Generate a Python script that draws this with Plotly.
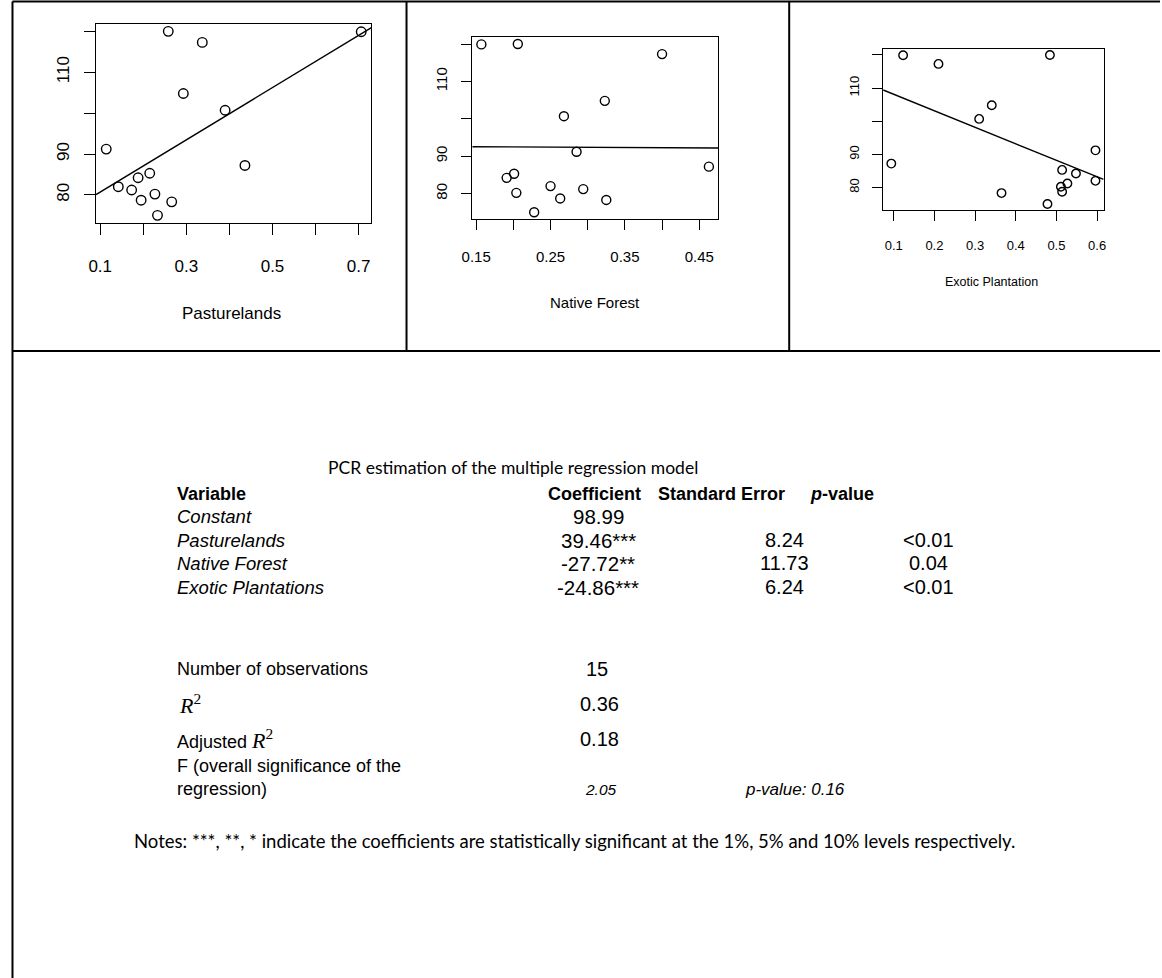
import plotly.graph_objects as go

W, H = 1162, 978

# ---------------- data ----------------
y_values = [120.0, 119.9, 117.3, 104.8, 100.7, 91.2, 87.2, 85.3, 84.2, 82.0, 81.2, 80.2, 78.7, 78.3, 75.0]
pasture_x = [0.258, 0.706, 0.337, 0.293, 0.390, 0.114, 0.436, 0.215, 0.188, 0.142, 0.173, 0.227, 0.195, 0.266, 0.233]
native_x = [0.206, 0.157, 0.400, 0.323, 0.268, 0.285, 0.463, 0.201, 0.191, 0.250, 0.294, 0.204, 0.263, 0.325, 0.228]
exotic_x = [0.484, 0.123, 0.210, 0.341, 0.310, 0.596, 0.094, 0.514, 0.548, 0.596, 0.527, 0.511, 0.514, 0.365, 0.478]

panel_titles = ["Pasturelands", "Native Forest", "Exotic Plantation"]
fit_intercepts = [74.3, 92.7, 113.1]
fit_slopes = [63.9, -1.08, -49.8]

y_tick_labels = [80, 90, 110]
y_tick_unlabeled = [100, 120]
x_tick_labels_1 = [0.1, 0.3, 0.5, 0.7]
x_tick_unlabeled_1 = [0.2, 0.4, 0.6]
x_tick_labels_2 = [0.15, 0.25, 0.35, 0.45]
x_tick_unlabeled_2 = [0.20, 0.30, 0.40]
x_tick_labels_3 = [0.1, 0.2, 0.3, 0.4, 0.5, 0.6]
x_tick_unlabeled_3 = []

table_title = "PCR estimation of the multiple regression model"
header_labels = ["Variable", "Coefficient", "Standard Error", "<i>p</i>-value"]
variable_names = ["Constant", "Pasturelands", "Native Forest", "Exotic Plantations"]
coefficients = ["98.99", "39.46***", "-27.72**", "-24.86***"]
standard_errors = ["", "8.24", "11.73", "6.24"]
p_values = ["", "<0.01", "0.04", "<0.01"]
n_obs = "15"
r_squared = "0.36"
adj_r_squared = "0.18"
f_stat = "2.05"
f_p_value = "0.16"
notes = "Notes: ***, **, * indicate the coefficients are statistically significant at the 1%, 5% and 10% levels respectively."


def PX(px):
    return px / W


def PY(py):
    return 1 - py / H


# ---------------- panels ----------------
xs_all = [pasture_x, native_x, exotic_x]
boxes = [  # left, right, top, bottom in px
    (86.0, 364.5, 24.0, 222.7),
    (466.5, 715.0, 37.3, 219.0),
    (882.0, 1105.0, 49.0, 210.0),
]
tick_fonts = [17, 15, 13]
title_fonts = [17, 15, 12.5]
title_pos = [(223, 313), (591, 302), (992, 282)]
xt_major = [x_tick_labels_1, x_tick_labels_2, x_tick_labels_3]
xt_minor = [x_tick_unlabeled_1, x_tick_unlabeled_2, x_tick_unlabeled_3]
x_fmt = [".1f", ".2f", ".1f"]
tick_lens = [11, 10, 10]
x_standoff = [17, 14, 13]
marker_sizes = [9.5, 9, 8.5]

fig = go.Figure()
annotations = []


def rrange(vals):
    lo, hi = min(vals), max(vals)
    d = (hi - lo) * 0.04
    return [lo - d, hi + d]


for i in range(3):
    xs = xs_all[i]
    xr = rrange(xs)
    yr = rrange(y_values)
    ax = "" if i == 0 else str(i + 1)
    fig.add_trace(go.Scatter(
        x=xs, y=y_values, mode="markers",
        marker=dict(symbol="circle-open", size=marker_sizes[i], color="black", line=dict(width=1.4)),
        xaxis="x" + ax, yaxis="y" + ax, showlegend=False, hoverinfo="x+y",
    ))
    line_x = [xr[0], xr[1]]
    line_y = [fit_intercepts[i] + fit_slopes[i] * v for v in line_x]
    fig.add_trace(go.Scatter(
        x=line_x, y=line_y, mode="lines", line=dict(color="black", width=1.4),
        xaxis="x" + ax, yaxis="y" + ax, showlegend=False, hoverinfo="skip",
    ))
    l, r, t, b = boxes[i]
    common = dict(showgrid=False, zeroline=False, showline=True, mirror=True,
                  linecolor="black", linewidth=1.2, ticks="outside", tickcolor="black",
                  tickwidth=1.2, ticklen=tick_lens[i], tickmode="array",
                  tickfont=dict(family="Liberation Sans, Arial", size=tick_fonts[i], color="black"))
    minor_x = dict(tickmode="array", tickvals=xt_minor[i], ticks="outside" if xt_minor[i] else "",
                   ticklen=tick_lens[i], tickwidth=1.2, tickcolor="black", showgrid=False)
    minor_y = dict(tickmode="array", tickvals=y_tick_unlabeled, ticks="outside",
                   ticklen=tick_lens[i], tickwidth=1.2, tickcolor="black", showgrid=False)
    fig.layout["xaxis" + ax] = dict(
        domain=[PX(l), PX(r)], range=xr, anchor="y" + ax,
        tickvals=xt_major[i], tickformat=x_fmt[i], tickangle=0, minor=minor_x,
        ticklabelstandoff=x_standoff[i], **common)
    fig.layout["yaxis" + ax] = dict(
        domain=[PY(b), PY(t)], range=yr, anchor="x" + ax,
        tickvals=y_tick_labels, tickformat="d", tickangle=-90, minor=minor_y,
        ticklabelstandoff=8, **common)
    tx, ty = title_pos[i]
    annotations.append(dict(x=PX(tx), y=PY(ty), xref="paper", yref="paper", text=panel_titles[i],
                            showarrow=False, xanchor="center", yanchor="middle",
                            font=dict(family="Liberation Sans, Arial", size=title_fonts[i], color="black")))

# ---------------- table text ----------------
ARIAL = "Liberation Sans, Arial"
CAL = "Lato, Carlito, Calibri"
LEFT = 166


def txt(px, py, s, size=18, anchor="left", family=ARIAL):
    annotations.append(dict(x=PX(px), y=PY(py), xref="paper", yref="paper", text=s,
                            showarrow=False, xanchor=anchor, yanchor="middle",
                            font=dict(family=family, size=size, color="black")))


txt(508, 467, table_title, size=17.5, anchor="center", family=CAL)

header_x = [LEFT, 590, 719, 840]
header_anchor = ["left", "center", "center", "center"]
for hx, ha, hl in zip(header_x, header_anchor, header_labels):
    txt(hx, 494, "<b>" + hl + "</b>", size=18, anchor=ha)

row_y = [516, 540, 563, 587]
for ry, name, c, se, p in zip(row_y, variable_names, coefficients, standard_errors, p_values):
    txt(LEFT, ry, "<i>" + name + "</i>", size=18.5)
    txt(594, ry, c, size=20.5, anchor="center")
    if se:
        txt(782, ry, se, size=20, anchor="center")
    if p:
        txt(928, ry, p, size=20, anchor="center")

txt(LEFT, 669, "Number of observations", size=18)
txt(593, 669, n_obs, size=20, anchor="center")
txt(LEFT + 2, 704, "<i>R</i><sup>2</sup>", size=22, family="Liberation Serif, Times New Roman")
txt(595, 704, r_squared, size=20, anchor="center")
txt(LEFT, 739, "Adjusted <span style='font-family:Liberation Serif;font-size:22px'><i>R</i><sup>2</sup></span>", size=18)
txt(595, 739, adj_r_squared, size=20, anchor="center")
txt(LEFT, 766, "F (overall significance of the", size=18)
txt(LEFT, 789, "regression)", size=18)
txt(597, 789, "<i>" + f_stat + "</i>", size=15.5, anchor="center")
txt(740, 789, "<i>p-value: " + f_p_value + "</i>", size=17, anchor="left")
txt(122, 841, notes, size=18.5, anchor="left", family=CAL)

# ---------------- frame lines ----------------
shapes = []


def seg(x0, y0, x1, y1):
    shapes.append(dict(type="line", xref="paper", yref="paper", x0=PX(x0), y0=PY(y0), x1=PX(x1), y1=PY(y1),
                       line=dict(color="black", width=2)))


seg(1.5, 1.5, 1162, 1.5)
seg(1.5, 1.5, 1.5, 978)
seg(400, 1.5, 400, 351)
seg(787, 1.5, 787, 351)
seg(1.5, 351, 1162, 351)

fig.update_layout(
    width=W, height=H, margin=dict(l=0, r=0, t=0, b=0),
    paper_bgcolor="white", plot_bgcolor="white",
    annotations=annotations, shapes=shapes, showlegend=False,
)

fig.write_html("out.html", config={"displayModeBar": False},
               post_script="document.body.style.margin='0px';")
